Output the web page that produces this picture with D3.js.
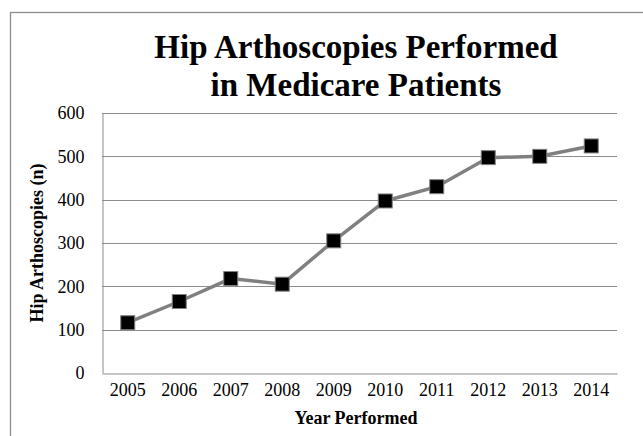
<!DOCTYPE html>
<html><head><meta charset="utf-8">
<script src="https://cdn.jsdelivr.net/npm/d3@7"></script>
<style>body{margin:0;background:#fff}svg{display:block}</style>
</head><body>
<svg id="chart" width="643" height="436"></svg>
<script>
const years = ["2005","2006","2007","2008","2009","2010","2011","2012","2013","2014"];
const values = [116, 165, 218, 205, 305, 397, 430, 497, 500, 524];
const yTicks = [0, 100, 200, 300, 400, 500, 600];
const titleLines = ["Hip Arthoscopies Performed", "in Medicare Patients"];
const yLabel = "Hip Arthoscopies (n)";
const xLabel = "Year Performed";

const svg = d3.select("#chart");
const font = "'Liberation Serif','Times New Roman',serif";
const m = {left: 102, right: 617, top: 113, bottom: 373};

// outer frame
svg.append("rect").attr("x", 10.5).attr("y", 12.5).attr("width", 700).attr("height", 500)
  .attr("fill", "none").attr("stroke", "#8c8c8c").attr("stroke-width", 1.3);

const x = d3.scaleBand().domain(years).range([m.left, m.right]);
const y = d3.scaleLinear().domain([0, 600]).range([m.bottom, m.top]);

// gridlines
svg.append("g").selectAll("line").data(yTicks.filter(d => d > 0)).join("line")
  .attr("x1", m.left).attr("x2", m.right)
  .attr("y1", d => Math.round(y(d)) + 0.5).attr("y2", d => Math.round(y(d)) + 0.5)
  .attr("stroke", "#8c8c8c").attr("stroke-width", 1);

// axes
const yAxis = svg.append("g").attr("transform", `translate(${m.left + 0.5},0)`)
  .call(d3.axisLeft(y).tickValues(yTicks).tickSize(0).tickPadding(18))
  .attr("font-family", font).attr("font-size", 18);
yAxis.select(".domain").attr("stroke", "#8c8c8c");
yAxis.selectAll("text").attr("fill", "#000");

const xAxis = svg.append("g").attr("transform", `translate(0,${Math.round(y(0)) + 0.5})`)
  .call(d3.axisBottom(x).tickSize(0).tickPadding(10))
  .attr("font-family", font).attr("font-size", 18);
xAxis.select(".domain").attr("stroke", "#8c8c8c");
xAxis.selectAll("text").attr("fill", "#000");

// line
const line = d3.line().x((d, i) => x(years[i]) + x.bandwidth() / 2).y(d => y(d));
svg.append("path").datum(values).attr("d", line)
  .attr("fill", "none").attr("stroke", "#808080").attr("stroke-width", 3.5);

// markers
const s = 14;
svg.append("g").selectAll("rect").data(values).join("rect")
  .attr("x", (d, i) => x(years[i]) + x.bandwidth() / 2 - s / 2)
  .attr("y", d => y(d) - s / 2)
  .attr("width", s).attr("height", s)
  .attr("fill", "#000").attr("stroke", "#808080").attr("stroke-width", 1);

// title
const t = svg.append("text").attr("text-anchor", "middle").attr("font-family", font)
  .attr("font-weight", "bold").attr("font-size", 33).attr("fill", "#000");
t.selectAll("tspan").data(titleLines).join("tspan")
  .attr("x", 356).attr("y", (d, i) => 58 + i * 38).text(d => d);

// axis titles
svg.append("text").attr("transform", "translate(43,243) rotate(-90)")
  .attr("text-anchor", "middle").attr("font-family", font).attr("font-weight", "bold")
  .attr("font-size", 18).text(yLabel);
svg.append("text").attr("x", 356).attr("y", 424).attr("text-anchor", "middle")
  .attr("font-family", font).attr("font-weight", "bold").attr("font-size", 18).text(xLabel);
</script>
</body></html>
